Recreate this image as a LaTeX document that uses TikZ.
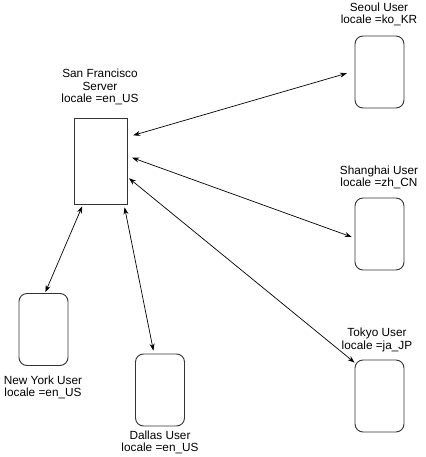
\documentclass[tikz,border=0pt]{standalone}
\usepackage{fontspec}
\setmainfont{Liberation Sans}
\usetikzlibrary{arrows.meta,calc}
\begin{document}
\begin{tikzpicture}[x=1pt,y=-1pt,
  lbl/.style={align=center,inner sep=0pt,font=\fontsize{11.8}{12.2}\selectfont},
  srvbox/.style={draw=black!80,line width=0.9pt,minimum width=53pt,minimum height=86pt,inner sep=0pt},
  userbox/.style={draw=black!80,line width=0.9pt,rounded corners=8pt,minimum width=49pt,minimum height=72pt,inner sep=0pt},
  link/.style={line width=0.7pt,{Stealth[length=7pt,width=5pt]}-{Stealth[length=7pt,width=5pt]}}]
\useasboundingbox (0,0) rectangle (425,457);
\fill[white] (0,0) rectangle (425,457);
% boxes
\node[srvbox] (srv) at (100.5,161) {};
\node[userbox] (seoul) at (379.5,72) {};
\node[userbox] (sh) at (379.5,234) {};
\node[userbox] (tk) at (379.5,396) {};
\node[userbox] (ny) at (43.5,329.5) {};
\node[userbox] (dl) at (160,390) {};
% labels
\node[lbl] (lseoul) at (379,14.5) {Seoul User\\locale =ko\_KR};
\node[lbl] (lsrv) at (100,87) {San Francisco\\Server\\locale =en\_US};
\node[lbl] (lsh) at (379,177) {Shanghai User\\locale =zh\_CN};
\node[lbl] (lny) at (43,387.5) {New York User\\locale =en\_US};
\node[lbl] (ldl) at (160,442.5) {Dallas User\\locale =en\_US};
\node[lbl] (ltk) at (377,340) {Tokyo User\\locale =ja\_JP};
% connectors
\draw[link,shorten <=6pt,shorten >=8pt] ($(srv.east)+(0,-24)$) -- ($(seoul.west)+(0,-1)$);
\draw[link,shorten <=5pt,shorten >=3pt] ($(srv.east)+(0,-5)$) -- ($(sh.west)+(0,4)$);
\draw[link,shorten <=2pt] ($(srv.east)+(0,16)$) -- ($(tk.north west)+(0,3)$);
\draw[link,shorten <=2pt,shorten >=1pt] ($(srv.south)+(-17.5,0)$) -- ($(ny.north)+(1.5,0)$);
\draw[link,shorten <=3pt,shorten >=3pt] ($(srv.south)+(23.5,0)$) -- ($(dl.north)+(-6,0)$);
\end{tikzpicture}
\end{document}
